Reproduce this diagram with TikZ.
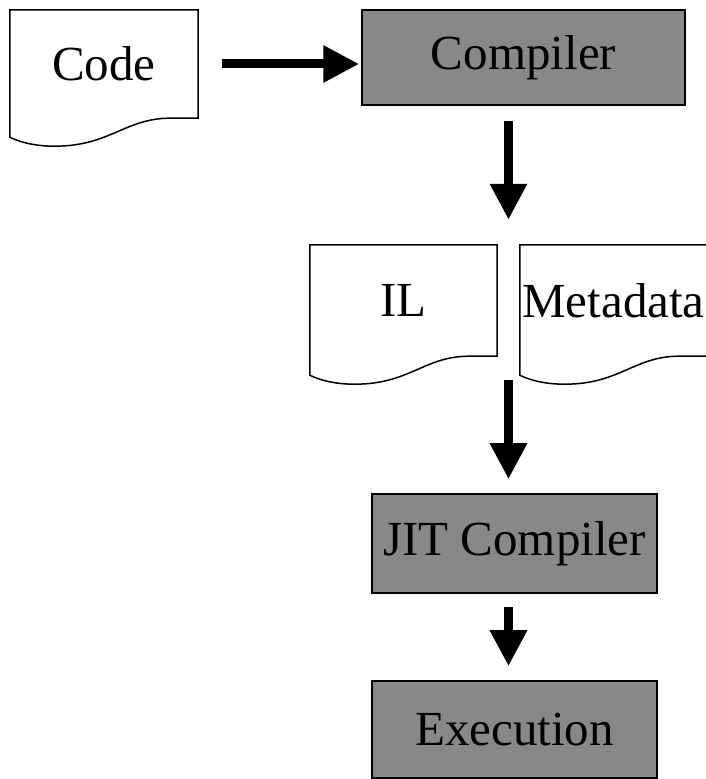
\documentclass[tikz,border=0pt]{standalone}
\usepackage{fontspec}
\setmainfont{Liberation Serif}
\usetikzlibrary{arrows.meta, calc}
\definecolor{boxgray}{HTML}{888888}
\tikzstyle{doc} = [rectangle, inner sep=2pt, text centered, font=\fontsize{49}{58}\selectfont]
\tikzstyle{stage} = [rectangle, inner sep=2pt, text centered, draw=black, line width=1.5pt, fill=boxgray, font=\fontsize{49}{58}\selectfont]
\tikzstyle{docline} = [line width=1.5pt, line join=miter]
\tikzstyle{arrow} = [line width=9pt, -{Triangle[length=36pt,width=35pt]}]

\begin{document}
\begin{tikzpicture}[x=1pt, y=1pt]
\useasboundingbox (0,0) rectangle (705,779);

\node (code) [doc, minimum width=188pt, minimum height=108pt] at (104,715) {Code};
\node (comp) [stage, minimum width=323pt, minimum height=95pt] at (523.5,721.5) {Compiler};
\node (il) [doc, minimum width=187pt, minimum height=111pt] at (403.5,478.5) {IL};
\node (meta) [doc, minimum width=187pt, minimum height=111pt] at (613.5,478.5) {Metadata};
\node (jit) [stage, minimum width=285pt, minimum height=99pt] at (514.5,235.5) {JIT Compiler};
\node (exec) [stage, minimum width=285pt, minimum height=97pt] at (514.5,49.5) {Execution};

% page outlines with the wavy bottom
\foreach \d in {code,il,meta}
  \draw [docline] (\d.south west) -- (\d.north west) -- (\d.north east) -- (\d.south east) -- ++(-28,0)
    .. controls +(-45,0) and +(55,0) .. ($(\d.south west)+(45,-28)$)
    .. controls +(-20,0) and +(10,-5) .. ($(\d.south west)+(0,-19)$) -- cycle;

\coordinate (split) at ($(il.north east)!0.5!(meta.north west)$);
\coordinate (join) at ($(il.south east)!0.5!(meta.south west)$);

\draw [arrow, shorten <=24pt, shorten >=2pt] (code.east) -- (code.east -| comp.west);
\draw [arrow, shorten <=15pt, shorten >=25pt] (comp.south -| split) -- (split);
\draw [arrow, shorten <=24pt, shorten >=14pt] (join) -- (join |- jit.north);
\draw [arrow, shorten <=13pt, shorten >=14pt] (join |- jit.south) -- (join |- exec.north);

\end{tikzpicture}
\end{document}
